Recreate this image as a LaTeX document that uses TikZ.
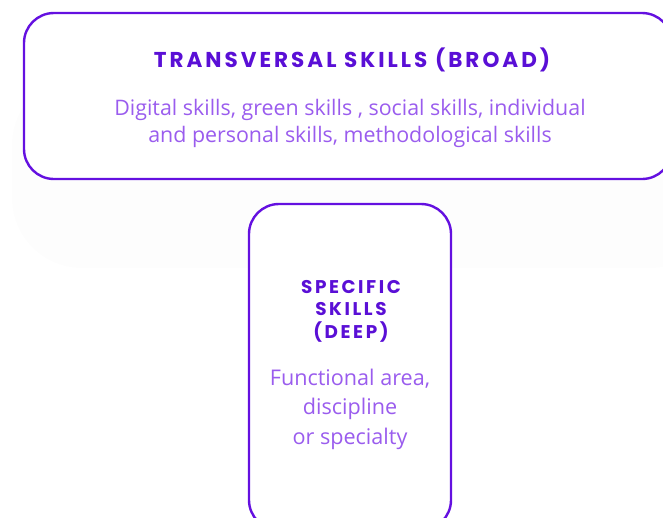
\documentclass[tikz,border=0pt]{standalone}
\usepackage{fontspec}
\setmainfont{Open Sans}
\newfontfamily\headfont[LetterSpace=14]{Poppins}
\definecolor{skillline}{HTML}{6410E0}
\definecolor{skillhead}{HTML}{5A0FD6}
\definecolor{skilltext}{HTML}{9A5CEE}
\tikzset{
  skillbox/.style={draw=skillline, line width=2.4pt, rounded corners=30pt, fill=white},
  headtxt/.style={text=skillhead, font=\headfont\bfseries\fontsize{21.5}{23}\selectfont, align=center},
  bodytxt/.style={text=skilltext, font=\fontsize{21.4}{27}\selectfont, align=center}
}
\begin{document}
\begin{tikzpicture}[x=1pt,y=-1pt]
  \useasboundingbox (0,0) rectangle (663,517);
  % faint glow behind the boxes
  \fill[black!0.8, rounded corners=70pt] (12,75) rectangle (720,268);

  \node[skillbox, minimum width=648pt, minimum height=166pt] (broad) at (348,96) {};
  \node[skillbox, minimum width=202pt, minimum height=326pt] (deep) at (350,367) {};

  \node[headtxt] (broadhead) at (352,60) {TRANSVERSAL SKILLS (BROAD)};
  \node[bodytxt] (broadtext) at (350,123) {Digital skills, green skills , social skills, individual\\and personal skills, methodological skills};

  \node[headtxt, font=\headfont\bfseries\fontsize{18.4}{22.5}\selectfont] (deephead) at (351,311) {SPECIFIC\\SKILLS\\(DEEP)};
  \node[bodytxt, font=\fontsize{21.6}{29.5}\selectfont] (deeptext) at (350,409) {Functional area,\\discipline\\or specialty};
\end{tikzpicture}
\end{document}
